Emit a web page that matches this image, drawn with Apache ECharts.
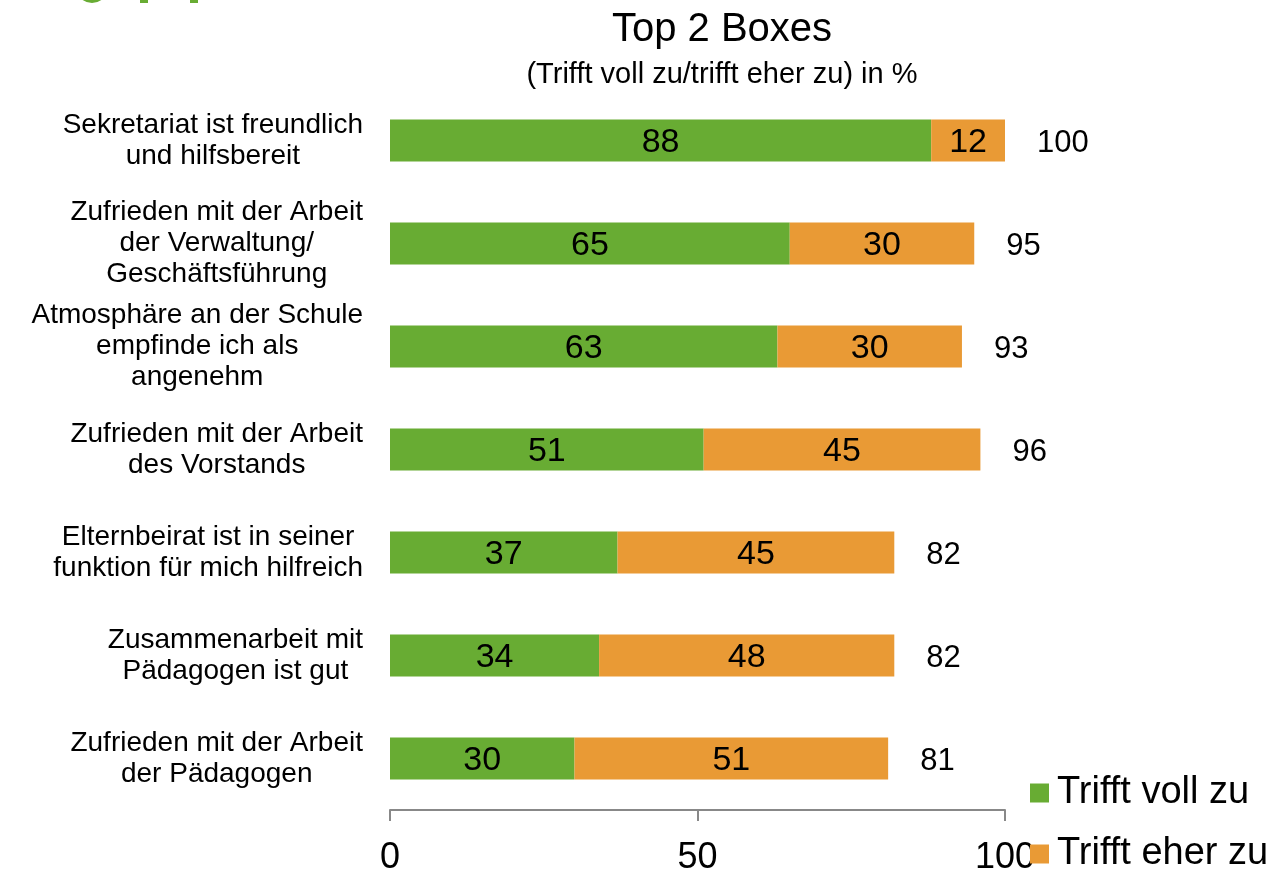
<!DOCTYPE html>
<html>
<head>
<meta charset="utf-8">
<script src="https://cdn.jsdelivr.net/npm/echarts@6/dist/echarts.min.js"></script>
<style>
  html, body { margin: 0; padding: 0; background: #fff; }
  #chart { width: 1269px; height: 869px; }
</style>
</head>
<body>
<div id="chart"></div>
<script>
// categories, top to bottom
const categories = [
  'Sekretariat ist freundlich\nund hilfsbereit',
  'Zufrieden mit der Arbeit\nder Verwaltung/\nGeschäftsführung',
  'Atmosphäre an der Schule\nempfinde ich als\nangenehm',
  'Zufrieden mit der Arbeit\ndes Vorstands',
  'Elternbeirat ist in seiner\nfunktion für mich hilfreich',
  'Zusammenarbeit mit\nPädagogen ist gut',
  'Zufrieden mit der Arbeit\nder Pädagogen'
]
const trifftVollZu = [88, 65, 63, 51, 37, 34, 30]
const trifftEherZu = [12, 30, 30, 45, 45, 48, 51]
// summe wie im bild beschriftet
const totals = [100, 95, 93, 96, 82, 82, 81]
const xTicks = [0, 50, 100]

const green = '#68ac33'
const orange = '#e99a35'
const font = 'Liberation Sans, Arial, sans-serif'

const myChart = echarts.init(document.getElementById('chart'))

const option = {
  backgroundColor: '#fff',
  textStyle: { fontFamily: font },
  // angeschnittenes logo oben links
  graphic: [
    { type: 'circle', shape: { cx: 92, cy: -13, r: 16 }, style: { fill: green } },
    { type: 'rect', shape: { x: 140, y: -10, width: 8, height: 13 }, style: { fill: green } },
    { type: 'rect', shape: { x: 190, y: -10, width: 8, height: 13 }, style: { fill: green } }
  ],
  title: {
    text: 'Top 2 Boxes',
    subtext: '(Trifft voll zu/trifft eher zu) in %',
    left: 722,
    textAlign: 'center',
    top: 10,
    itemGap: 10,
    padding: 0,
    textStyle: { fontSize: 40, fontWeight: 'normal', color: '#000', fontFamily: font },
    subtextStyle: { fontSize: 29, color: '#000', fontFamily: font }
  },
  legend: {
    orient: 'vertical',
    left: 1030,
    top: 774,
    height: 200,
    padding: 0,
    icon: 'rect',
    itemWidth: 19,
    itemHeight: 19,
    itemGap: 23,
    data: ['Trifft voll zu', 'Trifft eher zu'],
    textStyle: { fontSize: 38, color: '#000', fontFamily: font, padding: [0, 0, 0, 3] }
  },
  grid: {
    left: 390,
    right: 264,
    top: 89,
    bottom: 59,
    containLabel: false,
    outerBoundsMode: 'none'
  },
  xAxis: {
    type: 'value',
    min: 0,
    max: 100,
    interval: 50,
    splitLine: { show: false },
    axisLine: { show: true, lineStyle: { color: '#888', width: 2 } },
    axisTick: { show: true, length: 11, lineStyle: { color: '#888', width: 2 } },
    axisLabel: {
      fontSize: 36,
      color: '#000',
      margin: 30,
      formatter: v => xTicks.includes(v) ? String(v) : ''
    }
  },
  yAxis: {
    type: 'category',
    inverse: true,
    data: categories,
    axisLine: { show: false },
    axisTick: { show: false },
    axisLabel: {
      color: '#000',
      margin: 27,
      align: 'right',
      // zeilen innerhalb des blocks zentriert
      formatter: v => v.split('\n').map(l => '{c|' + l + '}').join('\n'),
      rich: {
        c: { align: 'center', fontSize: 28, lineHeight: 31, color: '#000', fontFamily: font }
      }
    }
  },
  series: [
    {
      name: 'Trifft voll zu',
      type: 'bar',
      stack: 'top2',
      barWidth: 42,
      data: trifftVollZu,
      itemStyle: { color: green },
      label: { show: true, position: 'inside', fontSize: 34, color: '#000', offset: [0, 2] }
    },
    {
      name: 'Trifft eher zu',
      type: 'bar',
      stack: 'top2',
      barWidth: 42,
      data: trifftEherZu,
      itemStyle: { color: orange },
      label: { show: true, position: 'inside', fontSize: 34, color: '#000', offset: [0, 2] }
    },
    {
      name: 'Summe',
      type: 'scatter',
      symbolSize: 0,
      silent: true,
      itemStyle: { opacity: 1 },
      data: totals.map((t, i) => [t, i]),
      label: {
        show: true,
        position: 'right',
        distance: 32,
        offset: [0, 3],
        fontSize: 31,
        color: '#000',
        formatter: p => p.value[0]
      }
    }
  ]
}

myChart.setOption(option)
</script>
</body>
</html>
